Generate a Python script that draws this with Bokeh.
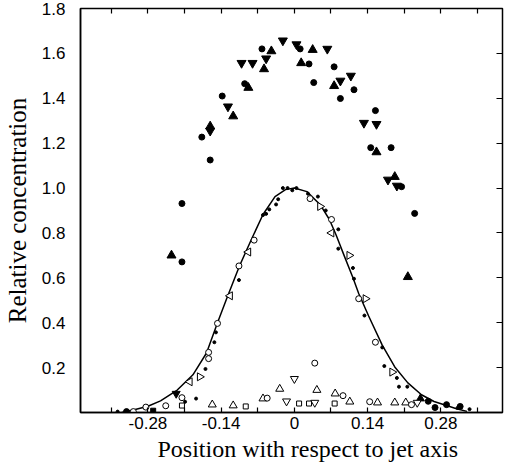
import math
from bokeh.plotting import figure
from bokeh.models import FixedTicker, LinearAxis, Title
from bokeh.embed import file_html
from bokeh.resources import INLINE

# ---- data ----
x_major_ticks = [-0.28, -0.14, 0.0, 0.14, 0.28]
x_minor_ticks = [-0.35, -0.21, -0.07, 0.07, 0.21, 0.35]
x_all_ticks = [-0.35, -0.28, -0.21, -0.14, -0.07, 0.0, 0.07, 0.14, 0.21, 0.28, 0.35]
x_tick_labels = ["-0.28", "-0.14", "0", "0.14", "0.28"]
y_ticks = [0.2, 0.4, 0.6, 0.8, 1.0, 1.2, 1.4, 1.6, 1.8]
y_tick_labels = ["0.2", "0.4", "0.6", "0.8", "1.0", "1.2", "1.4", "1.6", "1.8"]
x_title = "Position with respect to jet axis"
y_title = "Relative concentration"

# fitted curve
curve_x = [-0.33, -0.31, -0.28, -0.256, -0.224, -0.194, -0.168, -0.147, -0.129, -0.105,
           -0.082, -0.06, -0.037, -0.017, 0.0, 0.024, 0.049, 0.067, 0.08, 0.095,
           0.112, 0.123, 0.142, 0.168, 0.192, 0.217, 0.243, 0.267, 0.291, 0.31, 0.33]
curve_y = [0.0, 0.01, 0.028, 0.052, 0.10, 0.168, 0.265, 0.40, 0.51, 0.653,
           0.772, 0.882, 0.962, 0.993, 1.0, 0.984, 0.927, 0.86, 0.79, 0.70,
           0.60, 0.53, 0.43, 0.30, 0.203, 0.132, 0.079, 0.049, 0.031, 0.017, 0.005]

# upper series (filled)
up_circle_x = [-0.215, -0.177, -0.161, -0.138, -0.095, -0.062, 0.011, 0.028, 0.037, 0.076,
               0.088, 0.114, 0.155, 0.146, 0.185, 0.205, -0.215, 0.230]
up_circle_y = [0.931, 1.227, 1.125, 1.41, 1.465, 1.62, 1.62, 1.553, 1.47, 1.54,
               1.399, 1.438, 1.345, 1.18, 1.18, 1.006, 0.671, 0.887]
up_tri_x = [-0.161, -0.117, -0.088, -0.044, -0.058, 0.035, 0.013, 0.076, 0.157, 0.192, -0.235, 0.217]
up_tri_y = [1.275, 1.32, 1.447, 1.61, 1.53, 1.616, 1.557, 1.455, 1.16, 1.05, 0.70, 0.604]
up_inv_x = [-0.161, -0.127, -0.101, -0.080, -0.054, -0.022, 0.004, 0.063, 0.088, 0.108,
            0.133, 0.157, 0.179, 0.196]
up_inv_y = [1.255, 1.363, 1.557, 1.557, 1.577, 1.657, 1.64, 1.62, 1.478, 1.50,
            1.29, 1.285, 1.037, 1.01]

# filled points near the base
base_circle_x = [-0.321, 0.256, 0.269, 0.291, 0.317]
base_circle_y = [0.004, 0.05, 0.022, 0.035, 0.027]
base_square_x = [-0.270]
base_square_y = [0.008]
base_tri_x = [0.241]
base_tri_y = [0.062]
base_inv_x = [-0.226]
base_inv_y = [0.084]

# small dots along the curve
dot_x = [-0.106, -0.060, -0.054, -0.048, -0.035, -0.031, -0.022, -0.013, -0.004, 0.004,
         0.026, 0.045, 0.060, 0.084, 0.084, 0.112, 0.114, 0.134, 0.168, 0.172,
         0.196, 0.200, 0.216, -0.150, -0.153, -0.170, -0.209, -0.188, -0.338, 0.335, 0.312]
dot_y = [0.59, 0.88, 0.885, 0.905, 0.927, 0.95, 1.0, 1.0, 0.99, 1.0,
         0.975, 0.962, 0.90, 0.816, 0.73, 0.644, 0.596, 0.432, 0.29, 0.207,
         0.154, 0.115, 0.115, 0.357, 0.313, 0.194, 0.048, 0.062, 0.004, 0.015, 0.02]

# open symbols along the curve
oc_x = [-0.147, -0.106, -0.077, 0.030, 0.071, 0.123, 0.155, -0.164, -0.164, -0.215, -0.284, -0.308, -0.246]
oc_y = [0.397, 0.653, 0.768, 0.953, 0.86, 0.507, 0.313, 0.268, 0.240, 0.066, 0.024, 0.004, 0.03]
or_x = [0.049, 0.105, 0.136, -0.181, 0.187]
or_y = [0.918, 0.70, 0.507, 0.159, 0.18]
ol_x = [-0.123, -0.088, -0.200, 0.071]
ol_y = [0.52, 0.715, 0.137, 0.80]

# low series (open)
lo_tri_x = [-0.157, -0.117, -0.060, -0.028, 0.043, 0.078, 0.106, 0.159, 0.192, 0.213]
lo_tri_y = [0.035, 0.031, 0.062, 0.105, 0.10, 0.084, 0.048, 0.044, 0.044, 0.044]
lo_circle_x = [0.039, -0.052, 0.093, 0.144, 0.224]
lo_circle_y = [0.22, 0.064, 0.075, 0.048, 0.035]
lo_square_x = [-0.093, 0.009, 0.028, 0.077, -0.215]
lo_square_y = [0.027, 0.04, 0.04, 0.04, 0.031]
lo_inv_x = [0.0, 0.039, 0.235, -0.015]
lo_inv_y = [0.15, 0.044, 0.044, 0.05]

# ---- figure ----
p = figure(width=506, height=464, x_range=(-0.409, 0.398), y_range=(0, 1.8),
           output_backend="svg", toolbar_location=None,
           min_border_left=70, min_border_right=4, min_border_top=8, min_border_bottom=52)
p.background_fill_color = "white"
p.border_fill_color = "white"
p.outline_line_color = "black"
p.outline_line_width = 1.5
p.xgrid.visible = False
p.ygrid.visible = False

tick_font = "Liberation Sans"

xa = p.xaxis[0]
xa.ticker = FixedTicker(ticks=x_major_ticks, minor_ticks=x_minor_ticks)
xa.major_label_overrides = {v: s for v, s in zip(x_major_ticks, x_tick_labels)}
xa.major_tick_in = 5
xa.major_tick_out = 0
xa.minor_tick_in = 5
xa.minor_tick_out = 0
xa.axis_line_width = 1.5
xa.major_tick_line_width = 1.2
xa.minor_tick_line_width = 1.2
xa.major_label_standoff = 4
xa.major_label_text_font = tick_font
xa.major_label_text_font_size = "17px"
xa.major_label_text_color = "black"

# x-axis title, placed a little right of centre as in the reference
p.add_layout(Title(text=x_title, align="left", offset=77, standoff=5,
                   text_font="Liberation Serif", text_font_size="24px",
                   text_font_style="normal", text_color="black"), "below")

ya = p.yaxis[0]
ya.ticker = FixedTicker(ticks=y_ticks)
ya.major_label_overrides = {v: s for v, s in zip(y_ticks, y_tick_labels)}
ya.major_tick_line_color = None
ya.minor_tick_line_color = None
ya.axis_line_width = 1.5
ya.major_label_standoff = 9
ya.major_label_text_font = tick_font
ya.major_label_text_font_size = "17px"
ya.major_label_text_color = "black"
ya.axis_label = y_title
ya.axis_label_text_font = "Liberation Serif"
ya.axis_label_text_font_size = "25px"
ya.axis_label_text_font_style = "normal"
ya.axis_label_text_color = "black"
ya.axis_label_standoff = 8

top = LinearAxis(ticker=FixedTicker(ticks=x_all_ticks), major_label_text_font_size="1px",
                 major_label_text_color=None,
                 major_tick_in=5, major_tick_out=0, major_tick_line_width=1.2,
                 axis_line_color=None, minor_tick_line_color=None, major_label_standoff=0)
p.add_layout(top, "above")
right = LinearAxis(ticker=FixedTicker(ticks=y_ticks), major_label_text_font_size="1px",
                   major_label_text_color=None,
                   major_tick_in=6, major_tick_out=0, major_tick_line_width=1.2,
                   axis_line_color=None, minor_tick_line_color=None, major_label_standoff=0)
p.add_layout(right, "right")

# curve
p.line(curve_x, curve_y, line_color="black", line_width=1.5)

# upper filled series
p.scatter(up_circle_x, up_circle_y, marker="circle", size=6, color="black")
p.scatter(up_tri_x, up_tri_y, marker="triangle", size=9, color="black")
p.scatter(up_inv_x, up_inv_y, marker="inverted_triangle", size=9, color="black")

# filled base points
p.scatter(base_circle_x, base_circle_y, marker="circle", size=6, color="black")
p.scatter(base_square_x, base_square_y, marker="square", size=5, color="black")
p.scatter(base_tri_x, base_tri_y, marker="triangle", size=8, color="black")
p.scatter(base_inv_x, base_inv_y, marker="inverted_triangle", size=8, color="black")

# dots along curve
p.scatter(dot_x, dot_y, marker="circle", size=3, color="black")

# open symbols along curve
open_kw = dict(fill_color="white", line_color="black", line_width=1)
p.scatter(oc_x, oc_y, marker="circle", size=6, **open_kw)
p.scatter(or_x, or_y, marker="triangle", angle=-math.pi / 2, size=8, **open_kw)
p.scatter(ol_x, ol_y, marker="triangle", angle=math.pi / 2, size=8, **open_kw)

# low open series
p.scatter(lo_tri_x, lo_tri_y, marker="triangle", size=8, **open_kw)
p.scatter(lo_circle_x, lo_circle_y, marker="circle", size=6, **open_kw)
p.scatter(lo_square_x, lo_square_y, marker="square", size=5, **open_kw)
p.scatter(lo_inv_x, lo_inv_y, marker="inverted_triangle", size=8, **open_kw)

open("out.html", "w").write(file_html(p, INLINE))
